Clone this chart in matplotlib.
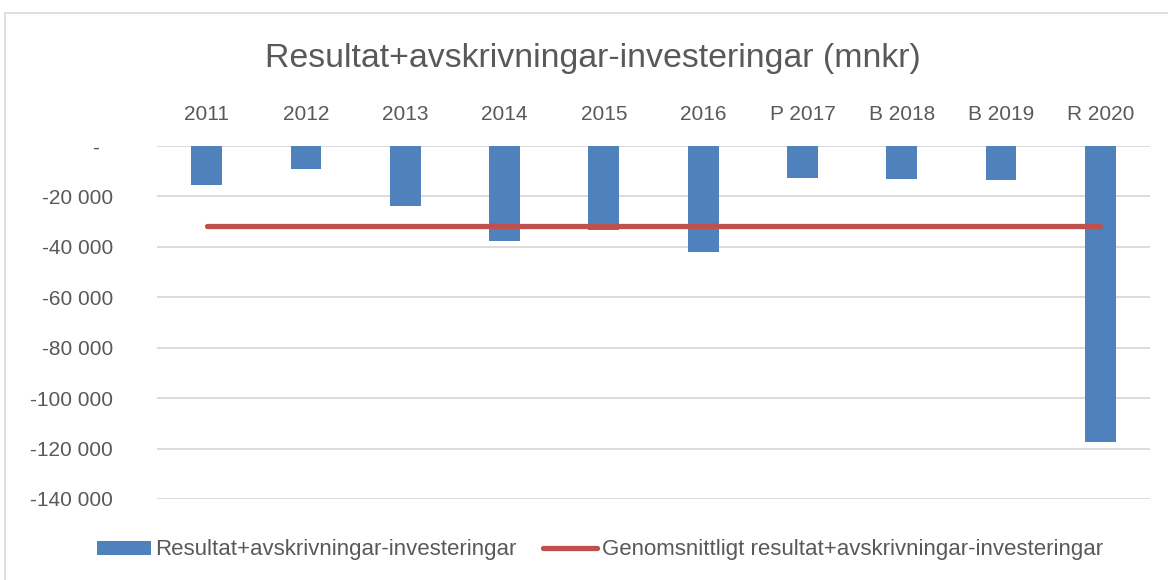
import matplotlib
matplotlib.use("Agg")
import matplotlib.pyplot as plt
from matplotlib.patches import Rectangle, Patch
from matplotlib.lines import Line2D
from matplotlib.ticker import FuncFormatter
from matplotlib.transforms import ScaledTranslation

categories = ["2011", "2012", "2013", "2014", "2015", "2016", "P 2017", "B 2018", "B 2019", "R 2020"]
values = [-15500, -9000, -23700, -37600, -33400, -42100, -12800, -13100, -13600, -117300]
average = [-31800] * len(categories)
title = "Resultat+avskrivningar-investeringar (mnkr)"
bar_label = "Resultat+avskrivningar-investeringar"
line_label = "Genomsnittligt resultat+avskrivningar-investeringar"

plt.rcParams['font.family'] = ['Liberation Sans', 'DejaVu Sans']
text_color = "#595959"

fig = plt.figure(figsize=(11.68, 5.8), dpi=100)
W, H = 1168, 580

# chart border
fig.patches.append(Rectangle((5 / W, -0.1), 1.2, 1 - 13 / H + 0.1, transform=fig.transFigure,
                             fill=False, edgecolor="#D9D9D9", linewidth=1.2))

ax = fig.add_axes([157 / W, 1 - 499 / H, (1150 - 157) / W, (499 - 146) / H])
x = list(range(len(categories)))
ax.bar(x, values, width=0.31, color="#4F81BD", zorder=3)
ax.plot(x, average, color="#C0504D", linewidth=3.8, solid_capstyle="round", zorder=4)

ax.set_xlim(-0.5, len(categories) - 0.5)
ax.set_ylim(-140000, 0)
ax.set_yticks(range(-140000, 1, 20000))


def fmt(v, pos):
    if v == 0:
        return "-"
    s = f"{int(abs(v)):,}".replace(",", " ")
    return "-" + s


ax.yaxis.set_major_formatter(FuncFormatter(fmt))
ax.grid(axis="y", color="#D9D9D9", linewidth=1.3, zorder=0)
for s in ax.spines.values():
    s.set_visible(False)
ax.tick_params(axis="y", length=0, pad=31.5, labelsize=15, labelcolor=text_color)
ax.set_xticks(x)
ax.set_xticklabels(categories)
ax.xaxis.tick_top()
ax.tick_params(axis="x", length=0, pad=16, labelsize=15, labelcolor=text_color)

# accounting-style dash for zero sits further left
zero_tick = ax.yaxis.get_major_ticks()[-1]
zero_tick.label1.set_transform(zero_tick.label1.get_transform()
                               + ScaledTranslation(-10 / 72, 0, fig.dpi_scale_trans))

fig.text(593 / W, 1 - 58 / H, title, ha="center", va="center", fontsize=24.4, color=text_color)

handles = [Patch(facecolor="#4F81BD", label=bar_label),
           Line2D([0], [0], color="#C0504D", linewidth=3.8, solid_capstyle="round", label=line_label)]
fig.legend(handles=handles, loc="center", bbox_to_anchor=(600 / W, 1 - 550 / H), ncol=2, frameon=False,
           fontsize=16, labelcolor=text_color, handlelength=2.4, handletextpad=0.22, columnspacing=1.2,
           handleheight=0.6)

fig.savefig("out.png", dpi=100)
